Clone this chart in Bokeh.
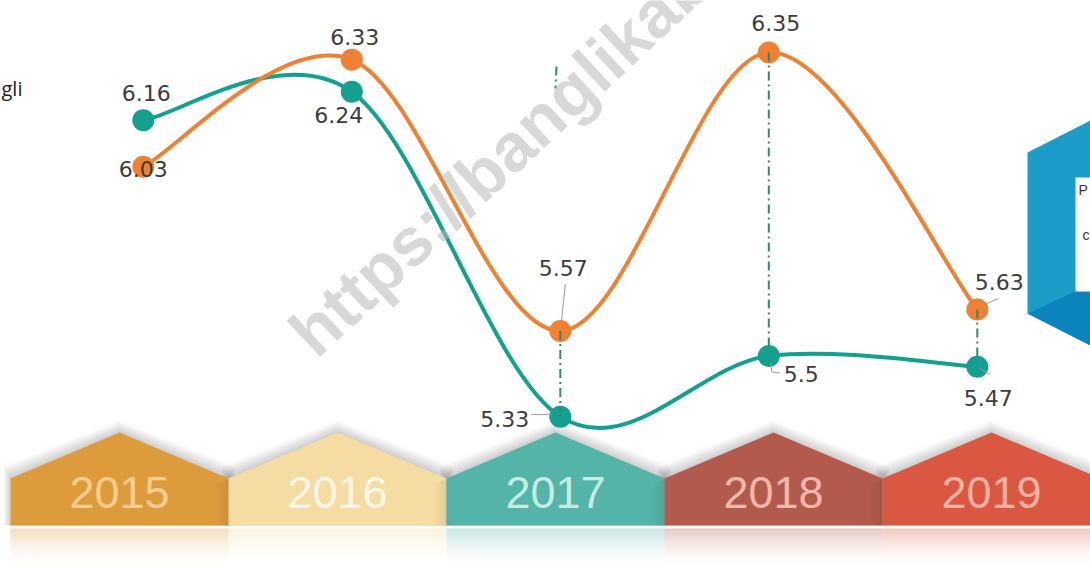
import math
from bokeh.plotting import figure
from bokeh.models import Range1d, ColumnDataSource
from bokeh.embed import file_html
from bokeh.resources import INLINE
from bokeh.core.properties import value

# ---------------- data ----------------
years = ["2015", "2016", "2017", "2018", "2019"]
series_a = [6.03, 6.33, 5.57, 6.35, 5.63]   # orange series
series_b = [6.16, 6.24, 5.33, 5.50, 5.47]   # teal series
drop_years = ["2017", "2018", "2019"]
side_text = "gli"
watermark = "https://banglikab"
box_texts = ["P", "c"]

# ---------------- styles ----------------
ORANGE = "#EE8133"
TEAL = "#13A08F"
DROP = "#2E8C6C"
LABEL = "#3C3C3C"
banner_fill = ["#DE9B3C", "#F5DCA2", "#54B4A7", "#B25B4C", "#DA5841"]
banner_text = ["#F8CF91", "#FFF8EA", "#C3ECE4", "#F2B8AA", "#F7B3A2"]

# label offsets in px relative to each point (dx, dy down-positive, align)
a_off = [(0, 2, "center"), (3, -23, "center"), (3, -63, "center"), (7, -30, "center"), (22, -28, "center")]
b_off = [(3, -27, "center"), (-13, 23, "center"), (-31, 2, "right"), (15, 18, "left"), (11, 31, "center")]

# ---------------- geometry ----------------
W, H = 1090, 571
SX0, SY0 = 0, 0
IDX0_PX, IDX_STEP = 142.8, 208.5      # screen x of first category, spacing
V_REF, V_REF_PX, V_SCALE = 6.35, 52.0, 357.0

x_start = (SX0 - IDX0_PX) / IDX_STEP
x_end = (SX0 + W - IDX0_PX) / IDX_STEP
y_top = V_REF + (V_REF_PX - SY0) / V_SCALE
y_bot = V_REF - (SY0 + H - V_REF_PX) / V_SCALE

p = figure(width=W, height=H, x_range=Range1d(x_start, x_end), y_range=Range1d(y_bot, y_top),
           output_backend="svg", toolbar_location=None, x_axis_location=None, y_axis_location=None,
           min_border=0, outline_line_color=None, background_fill_color="white",
           border_fill_color="white")
p.grid.visible = False
p.extra_x_ranges = {"px": Range1d(SX0, SX0 + W)}
p.extra_y_ranges = {"py": Range1d(SY0 + H, SY0)}
PX = dict(x_range_name="px", y_range_name="py")

# ---------------- banners ----------------
B_L0, B_W = 10, 218
ROOF_TOP, SHOULDER, B_BOTTOM = 432, 478, 525


def banner_poly(i, up=0, grow=0):
    L = B_L0 + B_W * i - grow
    R = B_L0 + B_W * (i + 1) + grow
    C = B_L0 + B_W * i + B_W / 2
    return ([L, L, C, R, R], [B_BOTTOM, SHOULDER - up, ROOF_TOP - up, SHOULDER - up, B_BOTTOM])

# soft shadow above roofs
for k in range(1, 13):
    xs, ys = [], []
    for i in range(len(years)):
        bx, by = banner_poly(i, up=k, grow=k * 0.6)
        xs.append(bx)
        ys.append(by)
    p.patches(xs=xs, ys=ys, fill_color="black", fill_alpha=0.016, line_color=None, **PX)

bx_all, by_all = zip(*[banner_poly(i) for i in range(len(years))])
p.patches(xs=list(bx_all), ys=list(by_all), fill_color=banner_fill, line_color=None, **PX)

# darker strip near the right edge of each banner
for j in range(6):
    lefts = [B_L0 + B_W * (i + 1) - 12 + 2 * j for i in range(len(years))]
    p.quad(left=lefts, right=[l + 2 for l in lefts], top=[SHOULDER + (12 - 2 * j) * 0.42] * len(years),
           bottom=[B_BOTTOM] * len(years), fill_color="black", fill_alpha=0.012 * (j + 1),
           line_color=None, **PX)

# reflection below banners
NB = 18
for k in range(NB):
    top = B_BOTTOM + 3 + 2 * k
    a = 0.32 * (1 - k / NB) ** 1.5
    p.quad(left=[B_L0 + B_W * i for i in range(len(years))],
           right=[B_L0 + B_W * (i + 1) for i in range(len(years))],
           top=[top] * len(years), bottom=[top + 2] * len(years),
           fill_color=banner_fill, fill_alpha=a, line_color=None, **PX)

# year labels
p.text(x=[B_L0 + B_W * i + B_W / 2 for i in range(len(years))], y=[492] * len(years), text=years,
       text_font=value("Liberation Sans"), text_font_size="45px", text_align="center",
       text_baseline="middle", text_color=banner_text, **PX)

# ---------------- smooth lines ----------------
xi = list(range(len(years)))


def bezier_segments(vals):
    n = len(vals)
    P = list(zip(xi, vals))
    segs = dict(x0=[], y0=[], x1=[], y1=[], cx0=[], cy0=[], cx1=[], cy1=[])
    for i in range(n - 1):
        p0 = P[max(i - 1, 0)]
        p1 = P[i]
        p2 = P[i + 1]
        p3 = P[min(i + 2, n - 1)]
        segs["x0"].append(p1[0]); segs["y0"].append(p1[1])
        segs["x1"].append(p2[0]); segs["y1"].append(p2[1])
        segs["cx0"].append(p1[0] + (p2[0] - p0[0]) / 6); segs["cy0"].append(p1[1] + (p2[1] - p0[1]) / 6)
        segs["cx1"].append(p2[0] - (p3[0] - p1[0]) / 6); segs["cy1"].append(p2[1] - (p3[1] - p1[1]) / 6)
    return segs


p.bezier(source=ColumnDataSource(bezier_segments(series_b)), x0="x0", y0="y0", x1="x1", y1="y1",
         cx0="cx0", cy0="cy0", cx1="cx1", cy1="cy1", line_color=TEAL, line_width=4, line_cap="round")
p.bezier(source=ColumnDataSource(bezier_segments(series_a)), x0="x0", y0="y0", x1="x1", y1="y1",
         cx0="cx0", cy0="cy0", cx1="cx1", cy1="cy1", line_color=ORANGE, line_width=4, line_cap="round")

p.scatter(x=xi, y=series_b, size=22, color=TEAL, line_color=None)
p.scatter(x=xi, y=series_a, size=22, color=ORANGE, line_color=None)

# drop lines between the two series
di = [years.index(y) for y in drop_years]
p.segment(x0=di, y0=[series_a[i] for i in di], x1=di, y1=[series_b[i] for i in di],
          line_color=DROP, line_width=2, line_dash="9 4 2 4")
p.segment(x0=[556], y0=[66], x1=[555], y1=[88], line_color=DROP, line_width=2,
          line_dash="9 4 2 4", **PX)


# leader lines (px offsets from points)
def off(i, vals, dx, dy):
    return i + dx / IDX_STEP, vals[i] - dy / V_SCALE


leaders = [
    (series_a, 2, [(5, -47), (1, -8)]),
    (series_b, 2, [(-29, -2), (-8, -2)]),
    (series_b, 3, [(2, 7), (3, 16), (11, 17)]),
    (series_a, 4, [(7, -5), (21, -11)]),
    (series_b, 4, [(3, 2), (13, 8)]),
]
lxs, lys = [], []
for vals, i, pts in leaders:
    cs = [off(i, vals, dx, dy) for dx, dy in pts]
    lxs.append([c[0] for c in cs])
    lys.append([c[1] for c in cs])
p.multi_line(xs=lxs, ys=lys, line_color="#9A9A9A", line_width=1)

# value labels
for vals, offs in ((series_a, a_off), (series_b, b_off)):
    for align in ("center", "left", "right"):
        idx = [i for i in xi if offs[i][2] == align]
        if not idx:
            continue
        p.text(x=[xi[i] for i in idx], y=[vals[i] for i in idx],
               text=[("%.2f" % vals[i]).rstrip("0") if vals[i] * 10 % 1 == 0 else "%.2f" % vals[i] for i in idx],
               x_offset=[offs[i][0] for i in idx], y_offset=[offs[i][1] for i in idx],
               text_font=value("DejaVu Sans"), text_font_size="22px", text_align=align,
               text_baseline="middle", text_color=LABEL)

# ---------------- watermark ----------------
p.text(x=[300], y=[342], text=[watermark], angle=math.radians(43), text_font=value("Liberation Sans"),
       text_font_style="bold", text_font_size="68px", text_align="left", text_baseline="alphabetic",
       text_color="#B8B8B8", text_alpha=0.55, **PX)

# ---------------- side text ----------------
p.text(x=[1], y=[88], text=[side_text], text_font=value("Open Sans"), text_font_size="20px",
       text_align="left", text_baseline="middle", text_color="#222222", **PX)

# ---------------- blue box (cut off at right) ----------------
p.patch(x=[1027, 1090, 1090, 1027], y=[152, 120, 345, 313], fill_color="#1C9CC9", line_color=None, **PX)
p.patch(x=[1027, 1075, 1090, 1090], y=[313, 291, 291, 345], fill_color="#0B84BE", line_color=None, **PX)
p.quad(left=[1075], right=[1090], top=[177], bottom=[291], fill_color="white", line_color=None, **PX)
p.text(x=[1078, 1082], y=[189, 234], text=box_texts, text_font=value("Liberation Sans"),
       text_font_size="14px", text_align="left", text_baseline="middle", text_color="#333333", **PX)

open("out.html", "w").write(file_html(p, INLINE))
